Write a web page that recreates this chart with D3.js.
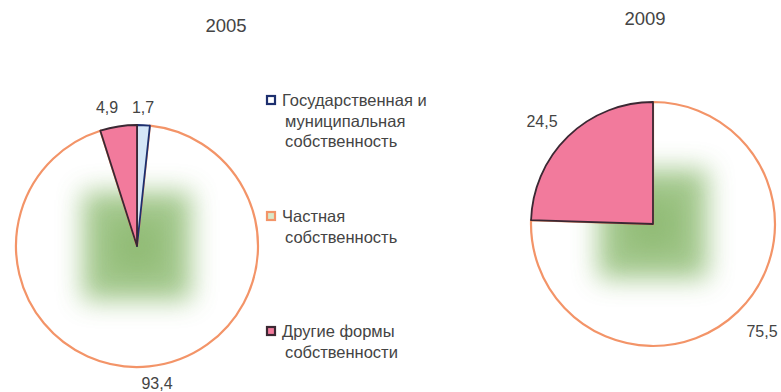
<!DOCTYPE html>
<html><head><meta charset="utf-8">
<script src="https://cdn.jsdelivr.net/npm/d3@7"></script>
<style>body{margin:0;background:#fff}svg{display:block}text{font-family:"Liberation Sans",Arial,sans-serif;fill:#444}</style>
</head><body>
<script>
const categories = ["Государственная и муниципальная собственность", "Частная собственность", "Другие формы собственности"];
const legendLines = [["Государственная и", "муниципальная", "собственность"], ["Частная", "собственность"], ["Другие формы", "собственности"]];
const years = ["2005", "2009"];
const values2005 = [1.7, 93.4, 4.9];
const values2009 = [0, 75.5, 24.5];
const labels2005 = ["1,7", "93,4", "4,9"];
const labels2009 = ["", "75,5", "24,5"];

const W = 781, H = 392;
const svg = d3.select("body").append("svg").attr("width", W).attr("height", H);
const defs = svg.append("defs");
defs.append("filter").attr("id", "blur").attr("x", "-50%").attr("y", "-50%").attr("width", "200%").attr("height", "200%")
  .append("feGaussianBlur").attr("stdDeviation", 13);

const fills = ["#d4e6f7", "#ffffff", "#f27a9c"];
const strokes = ["#1d2f6e", "#f39468", "#3b2833"];

const pie = d3.pie().sort(null).value(d => d);

const charts = [
  {year: years[0], values: values2005, labels: labels2005, cx: 137, cy: 246, r: 121, tx: 226, ty: 32,
   lab: [[143, 113], [157, 389], [107, 113]]},
  {year: years[1], values: values2009, labels: labels2009, cx: 653, cy: 224, r: 122, tx: 645, ty: 25,
   lab: [null, [762, 337], [542, 127]]}
];

charts.forEach((c, ci) => {
  const g = svg.append("g").attr("transform", `translate(${c.cx},${c.cy})`);
  const arc = d3.arc().innerRadius(0).outerRadius(c.r);
  const arcs = pie(c.values);
  const priv = arcs[1];
  defs.append("clipPath").attr("id", "clip" + ci).append("path").attr("d", arc(priv));
  g.append("path").attr("d", arc(priv)).attr("fill", fills[1]);
  const s = c.r * 0.9;
  const gg = g.append("g").attr("clip-path", `url(#clip${ci})`);
  gg.append("rect").attr("x", -s / 2).attr("y", -s / 2).attr("width", s).attr("height", s)
    .attr("fill", "#94c07a").attr("opacity", 0.85).attr("filter", "url(#blur)");
  gg.append("rect").attr("x", -s / 4).attr("y", -s / 4).attr("width", s / 2).attr("height", s / 2)
    .attr("fill", "#7eae5e").attr("opacity", 0.45).attr("filter", "url(#blur)");
  g.append("path").attr("d", arc(priv)).attr("fill", "none").attr("stroke", strokes[1]).attr("stroke-width", 2.2);
  [0, 2].forEach(i => {
    const a = arcs[i];
    if (a.endAngle - a.startAngle <= 0) return;
    g.append("path").attr("d", arc(a)).attr("fill", fills[i]).attr("stroke", strokes[i]).attr("stroke-width", 1.8).attr("stroke-linejoin", "round");
  });
  svg.append("text").attr("x", c.tx).attr("y", c.ty).attr("text-anchor", "middle").attr("font-size", 18.5).text(c.year);
  c.labels.forEach((t, i) => {
    if (!t || !c.lab[i]) return;
    svg.append("text").attr("x", c.lab[i][0]).attr("y", c.lab[i][1]).attr("text-anchor", "middle").attr("font-size", 16).text(t);
  });
});

// legend
const legendY = [106, 222, 337];
const boxFill = ["#ffffff", "#d9e8c9", "#f27a9c"];
const boxStroke = ["#1d2f6e", "#f39468", "#3b2833"];
categories.forEach((cat, i) => {
  const g = svg.append("g").attr("transform", `translate(266,${legendY[i]})`);
  g.append("rect").attr("x", 1).attr("y", -10).attr("width", 8).attr("height", 8)
    .attr("fill", boxFill[i]).attr("stroke", boxStroke[i]).attr("stroke-width", 2.2);
  legendLines[i].forEach((ln, j) => {
    g.append("text").attr("x", j === 0 ? 16 : 19).attr("y", j * 20.5).attr("font-size", 16.5).text(ln);
  });
});
</script>
</body></html>
